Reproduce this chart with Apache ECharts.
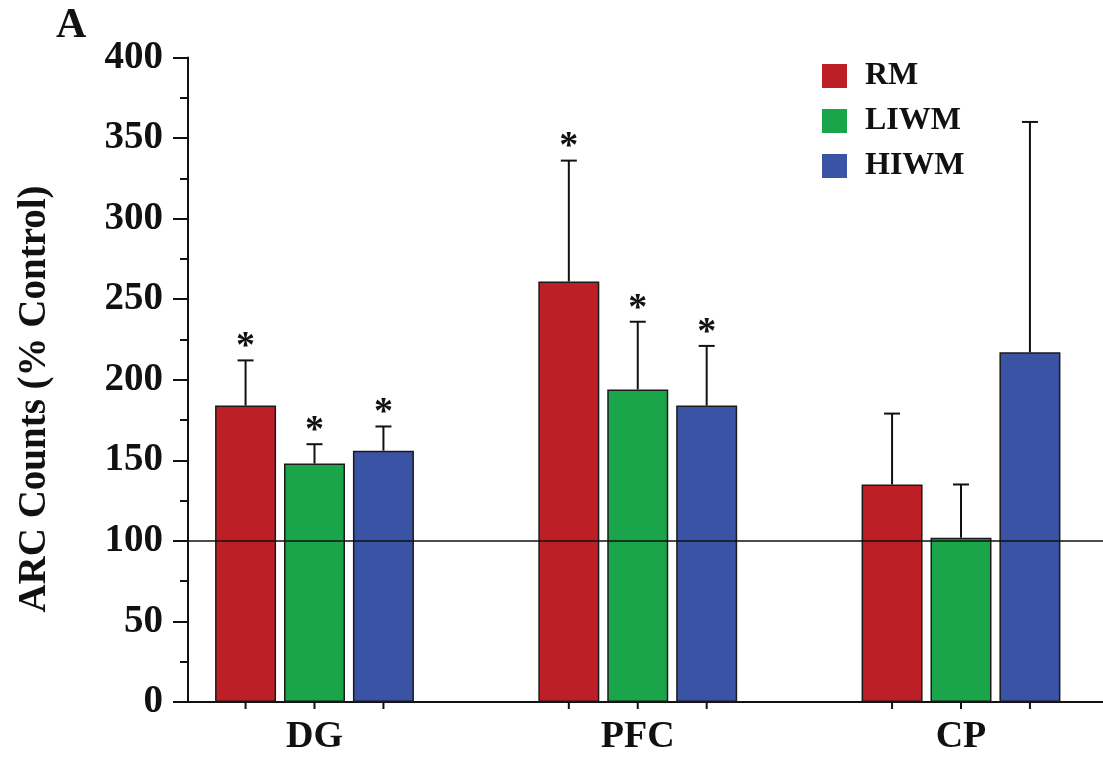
<!DOCTYPE html>
<html>
<head>
<meta charset="utf-8">
<script src="https://cdn.jsdelivr.net/npm/echarts@6/dist/echarts.min.js"></script>
<style>
html,body{margin:0;padding:0;background:#fff;}
#chart{width:1103px;height:758px;}
</style>
</head>
<body>
<div id="chart"></div>
<script>
// ---- data ----
const categories = ['DG', 'PFC', 'CP'];
const seriesNames = ['RM', 'LIWM', 'HIWM'];
const rmMean = [184, 261, 135];
const rmErr = [28, 75, 44];
const liwmMean = [148, 194, 102];
const liwmErr = [12, 42, 33];
const hiwmMean = [156, 184, 217];
const hiwmErr = [15, 37, 143];
const rmSig = [1, 1, 0];
const liwmSig = [1, 1, 0];
const hiwmSig = [1, 1, 0];
const refValue = 100;
const yTitle = 'ARC Counts (% Control)';
const panelLabel = 'A';

// ---- style ----
const FONT = "'Liberation Serif', 'Times New Roman', serif";
const colors = ['#bd1f26', '#1ba54b', '#3a53a5'];
const means = [rmMean, liwmMean, hiwmMean];
const errs = [rmErr, liwmErr, hiwmErr];
const sigs = [rmSig, liwmSig, hiwmSig];
const BAR_W = 61;
const BAR_GAP = 0.13;

const chart = echarts.init(document.getElementById('chart'), null, {renderer: 'canvas'});

const series = [];
seriesNames.forEach((name, i) => {
  series.push({
    name: name,
    type: 'bar',
    xAxisIndex: 0, yAxisIndex: 0,
    data: means[i],
    barWidth: BAR_W,
    barGap: (BAR_GAP * 100) + '%',
    clip: false,
    itemStyle: {color: colors[i], borderColor: '#1a1a1a', borderWidth: 1.5},
    emphasis: {disabled: true},
    z: 2
  });
});
seriesNames.forEach((name, i) => {
  const offset = (i - 1) * BAR_W * (1 + BAR_GAP);
  series.push({
    name: name + '_err',
    type: 'custom',
    xAxisIndex: 0, yAxisIndex: 0,
    clip: false,
    z: 3,
    data: categories.map((c, k) => [k, means[i][k], errs[i][k], sigs[i][k]]),
    renderItem: function (params, api) {
      const ci = api.value(0), m = api.value(1), e = api.value(2), s = api.value(3);
      const base = api.coord([ci, m]);
      const top = api.coord([ci, m + e]);
      const zero = api.coord([ci, 0]);
      const x = base[0] + offset;
      const st = {stroke: '#111', lineWidth: 2};
      const children = [
        {type: 'line', shape: {x1: x, y1: base[1], x2: x, y2: top[1]}, style: st},
        {type: 'line', shape: {x1: x - 8, y1: top[1], x2: x + 8, y2: top[1]}, style: st},
        {type: 'line', shape: {x1: x, y1: zero[1], x2: x, y2: zero[1] + 7}, style: st}
      ];
      if (s) {
        children.push({
          type: 'text',
          style: {x: x, y: top[1] + 6, text: '*', textAlign: 'center', textVerticalAlign: 'bottom',
                  font: 'bold 38px ' + FONT, fill: '#111'}
        });
      }
      return {type: 'group', children: children};
    }
  });
});
// reference line in the axis grid
series.push({
  name: 'ref',
  type: 'line',
  xAxisIndex: 1, yAxisIndex: 1,
  data: [],
  symbol: 'none',
  z: 5,
  markLine: {
    silent: true,
    symbol: 'none',
    label: {show: false},
    lineStyle: {color: '#111', width: 1.5, type: 'solid'},
    data: [{yAxis: refValue}],
    z: 5
  }
});

const option = {
  backgroundColor: '#fff',
  animation: false,
  legend: {
    data: seriesNames,
    orient: 'vertical',
    left: 822, top: 60,
    padding: 0,
    icon: 'rect',
    itemWidth: 25, itemHeight: 24, itemGap: 13,
    itemStyle: {borderWidth: 0},
    selectedMode: false,
    textStyle: {fontFamily: FONT, fontWeight: 'bold', fontSize: 32, color: '#111', lineHeight: 24, padding: [2, 0, 0, 13]}
  },
  grid: [
    {left: 314.5, right: 142, top: 57.5, bottom: 56},
    {left: 188, right: 0, top: 57.5, bottom: 56}
  ],
  xAxis: [
    {type: 'category', gridIndex: 0, data: categories, boundaryGap: false,
     axisLine: {show: false}, axisTick: {show: false}, splitLine: {show: false},
     axisLabel: {fontFamily: FONT, fontWeight: 'bold', fontSize: 38, color: '#111', margin: 16}},
    {type: 'value', gridIndex: 1, min: 0, max: 1,
     axisLine: {show: true, lineStyle: {color: '#111', width: 2}},
     axisTick: {show: false}, axisLabel: {show: false}, splitLine: {show: false}}
  ],
  yAxis: [
    {type: 'value', gridIndex: 0, min: 0, max: 400, show: false, splitLine: {show: false}},
    {type: 'value', gridIndex: 1, min: 0, max: 400, interval: 50,
     axisLine: {show: true, lineStyle: {color: '#111', width: 2}},
     axisTick: {show: true, length: 15, lineStyle: {color: '#111', width: 2}},
     minorTick: {show: true, splitNumber: 2, length: 8, lineStyle: {color: '#111', width: 2}},
     axisLabel: {fontFamily: FONT, fontWeight: 'bold', fontSize: 39, color: '#111', margin: 25},
     splitLine: {show: false}, minorSplitLine: {show: false}}
  ],
  graphic: [
    {type: 'text', left: 56, top: 5,
     style: {text: panelLabel, font: 'bold 42px ' + FONT, fill: '#111'}},
    {type: 'text', x: 35, y: 399, rotation: Math.PI / 2,
     style: {text: yTitle, font: 'bold 39px ' + FONT, fill: '#111', textAlign: 'center', textVerticalAlign: 'middle'}}
  ],
  series: series
};
chart.setOption(option);
</script>
</body>
</html>
